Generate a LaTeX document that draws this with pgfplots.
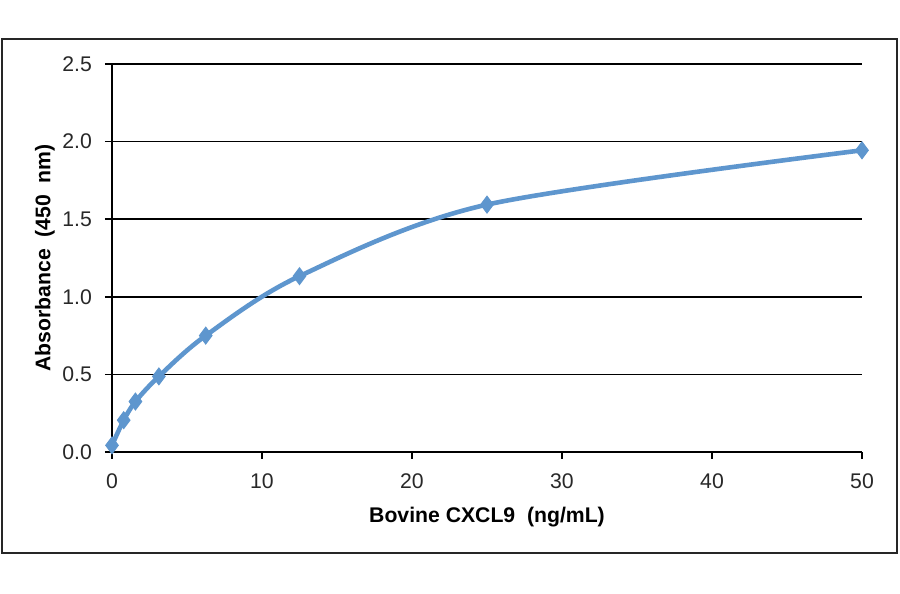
\documentclass[border=0pt]{standalone}
\usepackage{fontspec}
\setmainfont{Liberation Sans}
\usepackage{pgfplots}
\pgfplotsset{compat=1.18}
\definecolor{curveblue}{RGB}{94,150,206}
\definecolor{ticktext}{RGB}{40,40,40}
\begin{document}
\begin{tikzpicture}
% 1 px of the reference = 0.5pt; axis box lower left at (0,0)
\useasboundingbox (-56pt,-71pt) rectangle (394pt,226pt);
\fill[white] (-56pt,-71pt) rectangle (394pt,226pt);
\draw[black!85, line width=0.8pt] (-55pt,-50.5pt) rectangle (392.5pt,206.5pt);
\begin{axis}[
    at={(0,0)}, anchor=south west,
    scale only axis,
    width=375pt, height=194pt,
    xmin=0, xmax=50,
    ymin=0, ymax=2.5,
    xtick={0,10,20,30,40,50},
    ytick={0,0.5,1.0,1.5,2.0,2.5},
    yticklabel style={/pgf/number format/fixed, /pgf/number format/fixed zerofill, /pgf/number format/precision=1, xshift=-3pt},
    /pgf/number format/assume math mode=true,
    axis x line*=bottom,
    axis y line*=left,
    axis line style={-, black, line width=0.75pt},
    tick align=outside,
    major tick length=3.5pt,
    tick style={black, line width=0.75pt},
    ymajorgrids=true,
    grid style={black, line width=0.75pt},
    ticklabel style={font=\fontsize{10.6}{12}\selectfont, text=ticktext},
    xticklabel style={yshift=-4pt},
    xlabel={\textbf{Bovine CXCL9\ \ (ng/mL)}},
    ylabel={\textbf{Absorbance\ \ (450\ \ nm)}},
    label style={font=\fontsize{10.6}{12}\selectfont},
    xlabel style={yshift=-2pt},
    ylabel style={yshift=-3pt},
    clip=false,
]
\addplot[
    color=curveblue,
    line width=2.3pt,
    smooth, tension=0.5,
    mark=diamond*,
    mark size=4.2pt,
    mark options={fill=curveblue, draw=curveblue, line width=0.5pt},
    ]
    coordinates {
    (0,0.043)(0.78,0.205)(1.5625,0.325)(3.125,0.487)(6.25,0.750)(12.5,1.133)(25,1.594)(50,1.944)
    };
\end{axis}
\end{tikzpicture}
\end{document}
